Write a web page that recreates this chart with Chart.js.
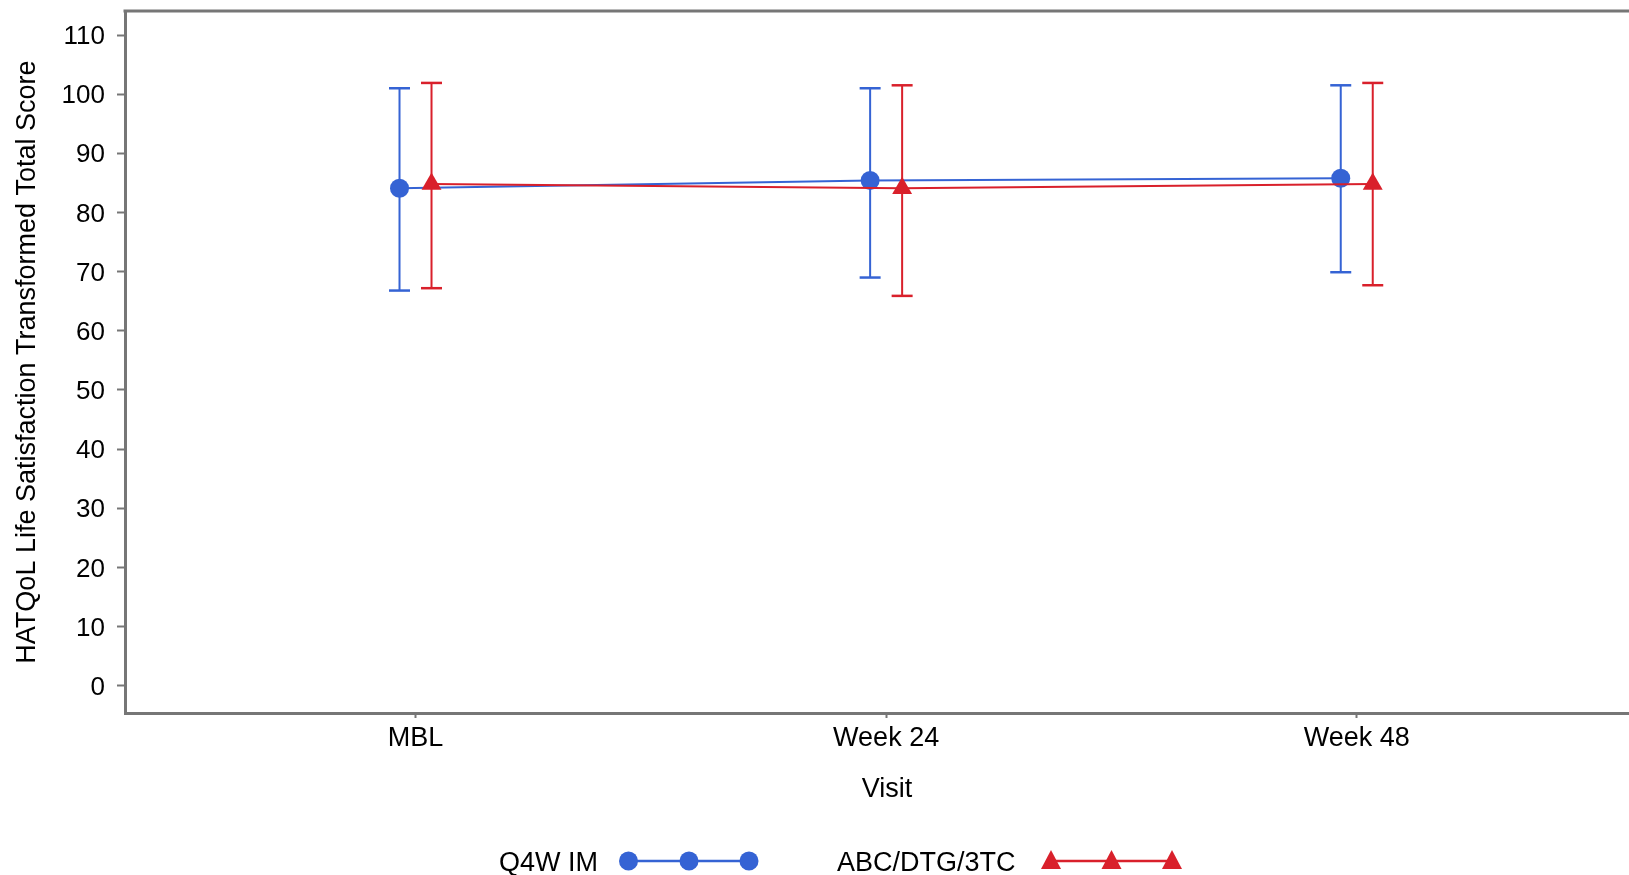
<!DOCTYPE html>
<html>
<head>
<meta charset="utf-8">
<script src="https://cdn.jsdelivr.net/npm/chart.js@4.4.1/dist/chart.umd.min.js"></script>
<style>
html,body{margin:0;padding:0;background:#fff;overflow:hidden;}
#wrap{position:relative;width:1629px;height:875px;overflow:hidden;background:#fff;}
#c{position:absolute;left:0;top:0;}
#lgsvg{position:absolute;left:0;top:0;}
.lg{position:absolute;font-family:"Liberation Sans",Arial,Helvetica,sans-serif;font-size:27px;color:#000;line-height:30px;white-space:nowrap;}
</style>
</head>
<body>
<div id="wrap">
<canvas id="c" width="1649" height="875"></canvas>
<svg id="lgsvg" width="1629" height="875" xmlns="http://www.w3.org/2000/svg">
  <line x1="628.5" y1="861" x2="749" y2="861" stroke="#3563D4" stroke-width="2.5"/>
  <circle cx="628.5" cy="861" r="9.5" fill="#3563D4"/>
  <circle cx="689" cy="861" r="9.5" fill="#3563D4"/>
  <circle cx="749" cy="861" r="9.5" fill="#3563D4"/>
  <line x1="1051" y1="861" x2="1172" y2="861" stroke="#D9202B" stroke-width="2.5"/>
  <polygon points="1051,850 1061,869 1041,869" fill="#D9202B"/>
  <polygon points="1111.5,850 1121.5,869 1101.5,869" fill="#D9202B"/>
  <polygon points="1172,850 1182,869 1162,869" fill="#D9202B"/>
</svg>
<div class="lg" style="left:499px;top:847px">Q4W IM</div>
<div class="lg" style="left:837px;top:847px">ABC/DTG/3TC</div>
</div>
<script>
// ---- data ----
const visits = ['MBL', 'Week 24', 'Week 48'];
const seriesNames = ['Q4W IM', 'ABC/DTG/3TC'];
const q4wMean  = [84.1, 85.4, 85.8];
const q4wLower = [66.8, 69.0, 69.9];
const q4wUpper = [101.0, 101.0, 101.5];
const abcMean  = [84.8, 84.1, 84.8];
const abcLower = [67.2, 65.9, 67.7];
const abcUpper = [101.9, 101.5, 101.9];
const yTickValues = [0, 10, 20, 30, 40, 50, 60, 70, 80, 90, 100, 110];

// ---- styling ----
const BLUE = '#3563D4';
const RED = '#D9202B';
const AXIS = '#767676';
const FONT = '"Liberation Sans", Arial, Helvetica, sans-serif';
const DODGE = 0.034;

function meanPoints(means, shift) {
  return means.map((v, i) => ({x: i + 1 + shift, y: v}));
}
function errPoints(lo, hi, shift) {
  const out = [];
  lo.forEach((l, i) => {
    out.push({x: i + 1 + shift, y: l});
    out.push({x: i + 1 + shift, y: hi[i]});
    out.push({x: i + 1 + shift, y: null});
  });
  return out;
}
function noPad(scale) {
  scale.paddingTop = 0; scale.paddingBottom = 0;
  scale.paddingLeft = 0; scale.paddingRight = 0;
}

const topBorder = {
  id: 'topBorder',
  afterDraw(chart) {
    const {ctx, chartArea} = chart;
    ctx.save();
    ctx.strokeStyle = AXIS;
    ctx.lineWidth = 3;
    ctx.beginPath();
    ctx.moveTo(chartArea.left - 1.5, chartArea.top);
    ctx.lineTo(chart.width, chartArea.top);
    ctx.stroke();
    ctx.restore();
  }
};

new Chart(document.getElementById('c'), {
  type: 'line',
  data: {
    datasets: [
      {
        label: seriesNames[1],
        data: meanPoints(abcMean, DODGE),
        borderColor: RED, backgroundColor: RED, borderWidth: 2,
        pointStyle: 'triangle', pointRadius: 11.5, pointBorderWidth: 0,
        pointBackgroundColor: RED, order: 0
      },
      {
        label: seriesNames[0],
        data: meanPoints(q4wMean, -DODGE),
        borderColor: BLUE, backgroundColor: BLUE, borderWidth: 2,
        pointStyle: 'circle', pointRadius: 9.5, pointBorderWidth: 0,
        pointBackgroundColor: BLUE, order: 1
      },
      {
        label: seriesNames[1] + ' range',
        data: errPoints(abcLower, abcUpper, DODGE),
        borderColor: RED, borderWidth: 2, spanGaps: false,
        pointStyle: 'line', pointRadius: 10.5, pointBorderWidth: 2.5,
        pointBorderColor: RED, order: 2
      },
      {
        label: seriesNames[0] + ' range',
        data: errPoints(q4wLower, q4wUpper, -DODGE),
        borderColor: BLUE, borderWidth: 2, spanGaps: false,
        pointStyle: 'line', pointRadius: 10.5, pointBorderWidth: 2.5,
        pointBorderColor: BLUE, order: 3
      }
    ]
  },
  options: {
    responsive: false,
    devicePixelRatio: 1,
    animation: false,
    layout: {autoPadding: false, padding: {left: 7, top: 11, right: 0, bottom: 67}},
    plugins: {legend: {display: false}, tooltip: {enabled: false}},
    scales: {
      x: {
        type: 'linear',
        min: 0.3827, max: 3.621,
        afterBuildTicks(scale) { scale.ticks = visits.map((v, i) => ({value: i + 1})); },
        afterFit(scale) { scale.height = 95; noPad(scale); },
        ticks: {
          callback: (v) => visits[Math.round(v) - 1] || '',
          color: '#000', font: {family: FONT, size: 27}, padding: 4, maxRotation: 0, autoSkip: false
        },
        grid: {drawOnChartArea: false, drawTicks: true, tickLength: 5, tickColor: AXIS, tickWidth: 2},
        border: {display: true, color: AXIS, width: 3},
        title: {display: true, text: 'Visit', color: '#000', font: {family: FONT, size: 27}, padding: {top: 4, bottom: 2}}
      },
      y: {
        type: 'linear',
        min: -4.615, max: 114.06,
        afterBuildTicks(scale) { scale.ticks = yTickValues.map(v => ({value: v})); },
        afterFit(scale) { scale.width = 118; noPad(scale); },
        ticks: {color: '#000', font: {family: FONT, size: 26}, padding: 12, labelOffset: 2},
        grid: {drawOnChartArea: false, drawTicks: true, tickLength: 8, tickColor: AXIS, tickWidth: 2},
        border: {display: true, color: AXIS, width: 3},
        title: {display: true, text: 'HATQoL Life Satisfaction Transformed Total Score', color: '#000', font: {family: FONT, size: 27}, padding: {top: 4, bottom: 4}}
      }
    }
  },
  plugins: [topBorder]
});
</script>
</body>
</html>
